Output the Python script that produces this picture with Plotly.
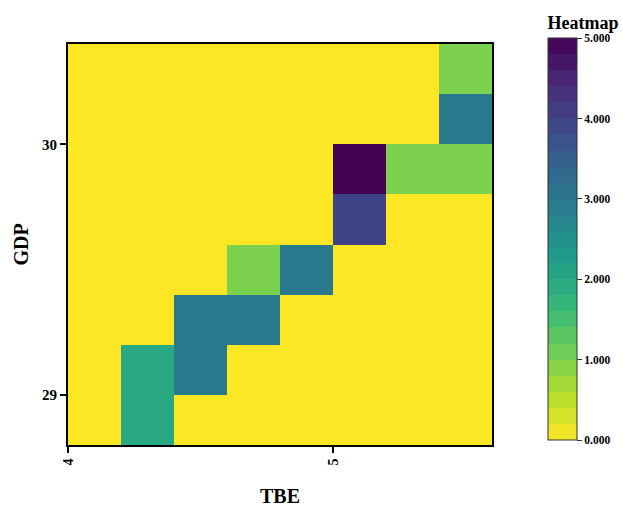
import plotly.graph_objects as go
import plotly.colors as pc

# Data: cell edges and values (rows bottom -> top)
x_edges = [4.0, 4.2, 4.4, 4.6, 4.8, 5.0, 5.2, 5.4, 5.6]
y_edges = [28.8, 29.0, 29.2, 29.4, 29.6, 29.8, 30.0, 30.2, 30.4]
x_centers = [4.1, 4.3, 4.5, 4.7, 4.9, 5.1, 5.3, 5.5]
y_centers = [28.9, 29.1, 29.3, 29.5, 29.7, 29.9, 30.1, 30.3]
z_values = [
    [0, 2, 0, 0, 0, 0, 0, 0],
    [0, 2, 3, 0, 0, 0, 0, 0],
    [0, 0, 3, 3, 0, 0, 0, 0],
    [0, 0, 0, 1, 3, 0, 0, 0],
    [0, 0, 0, 0, 0, 4, 0, 0],
    [0, 0, 0, 0, 0, 5, 1, 1],
    [0, 0, 0, 0, 0, 0, 0, 3],
    [0, 0, 0, 0, 0, 0, 0, 1],
]
cb_ticks = [0, 1, 2, 3, 4, 5]
cb_ticklabels = ["0.000", "1.000", "2.000", "3.000", "4.000", "5.000"]

FONT = "Liberation Serif"
viridis_r = pc.sequential.Viridis[::-1]

# stepped colorscale for the colorbar (25 bands)
n = 25
stepped = []
for i in range(n):
    c = pc.sample_colorscale(viridis_r, [(i + 0.5) / n])[0]
    stepped.append([i / n, c])
    stepped.append([(i + 1) / n, c])

fig = go.Figure()
fig.add_trace(go.Heatmap(
    x=x_centers, y=y_centers, z=z_values,
    colorscale=viridis_r, zmin=0, zmax=5, showscale=False,
))
fig.add_trace(go.Scatter(
    x=[None], y=[None], mode="markers", showlegend=False,
    marker=dict(
        color=[0], colorscale=stepped, cmin=0, cmax=5, showscale=True,
        colorbar=dict(
            title=dict(text="Heatmap", side="top",
                       font=dict(family=FONT, size=18, color="black", weight="bold")),
            tickvals=cb_ticks, ticktext=cb_ticklabels,
            tickfont=dict(family=FONT, size=11.5, color="black", weight="bold"),
            ticks="outside", ticklen=5, tickcolor="#333",
            thickness=29, len=1.066, lenmode="fraction",
            x=1.132, xanchor="left", xpad=0,
            y=0.012, yanchor="bottom", ypad=0,
            outlinewidth=1, outlinecolor="#333",
        ),
    ),
))

fig.update_layout(
    width=623, height=510,
    margin=dict(l=68, r=131, t=44, b=65, autoexpand=False),
    plot_bgcolor="white", paper_bgcolor="white",
    font=dict(family=FONT, color="black"),
)
fig.update_xaxes(
    range=[x_edges[0], x_edges[-1]], tickvals=[4, 5], ticktext=["4", "5"],
    tickangle=-90, ticks="outside", ticklen=6, tickwidth=1.5, tickcolor="black",
    showline=True, linecolor="black", linewidth=2, mirror=True, showgrid=False, zeroline=False,
    tickfont=dict(family=FONT, size=14, color="black", weight="bold"),
    title=dict(text="TBE", font=dict(family=FONT, size=20, color="black", weight="bold"), standoff=24),
)
fig.update_yaxes(
    range=[y_edges[0], y_edges[-1]], tickvals=[29, 30], ticktext=["29", "30"],
    ticks="outside", ticklen=6, tickwidth=1.5, tickcolor="black",
    showline=True, linecolor="black", linewidth=2, mirror=True, showgrid=False, zeroline=False,
    tickfont=dict(family=FONT, size=15, color="black", weight="bold"),
    title=dict(text="GDP", font=dict(family=FONT, size=20, color="black", weight="bold"), standoff=8),
)

fig.write_html("out.html")
